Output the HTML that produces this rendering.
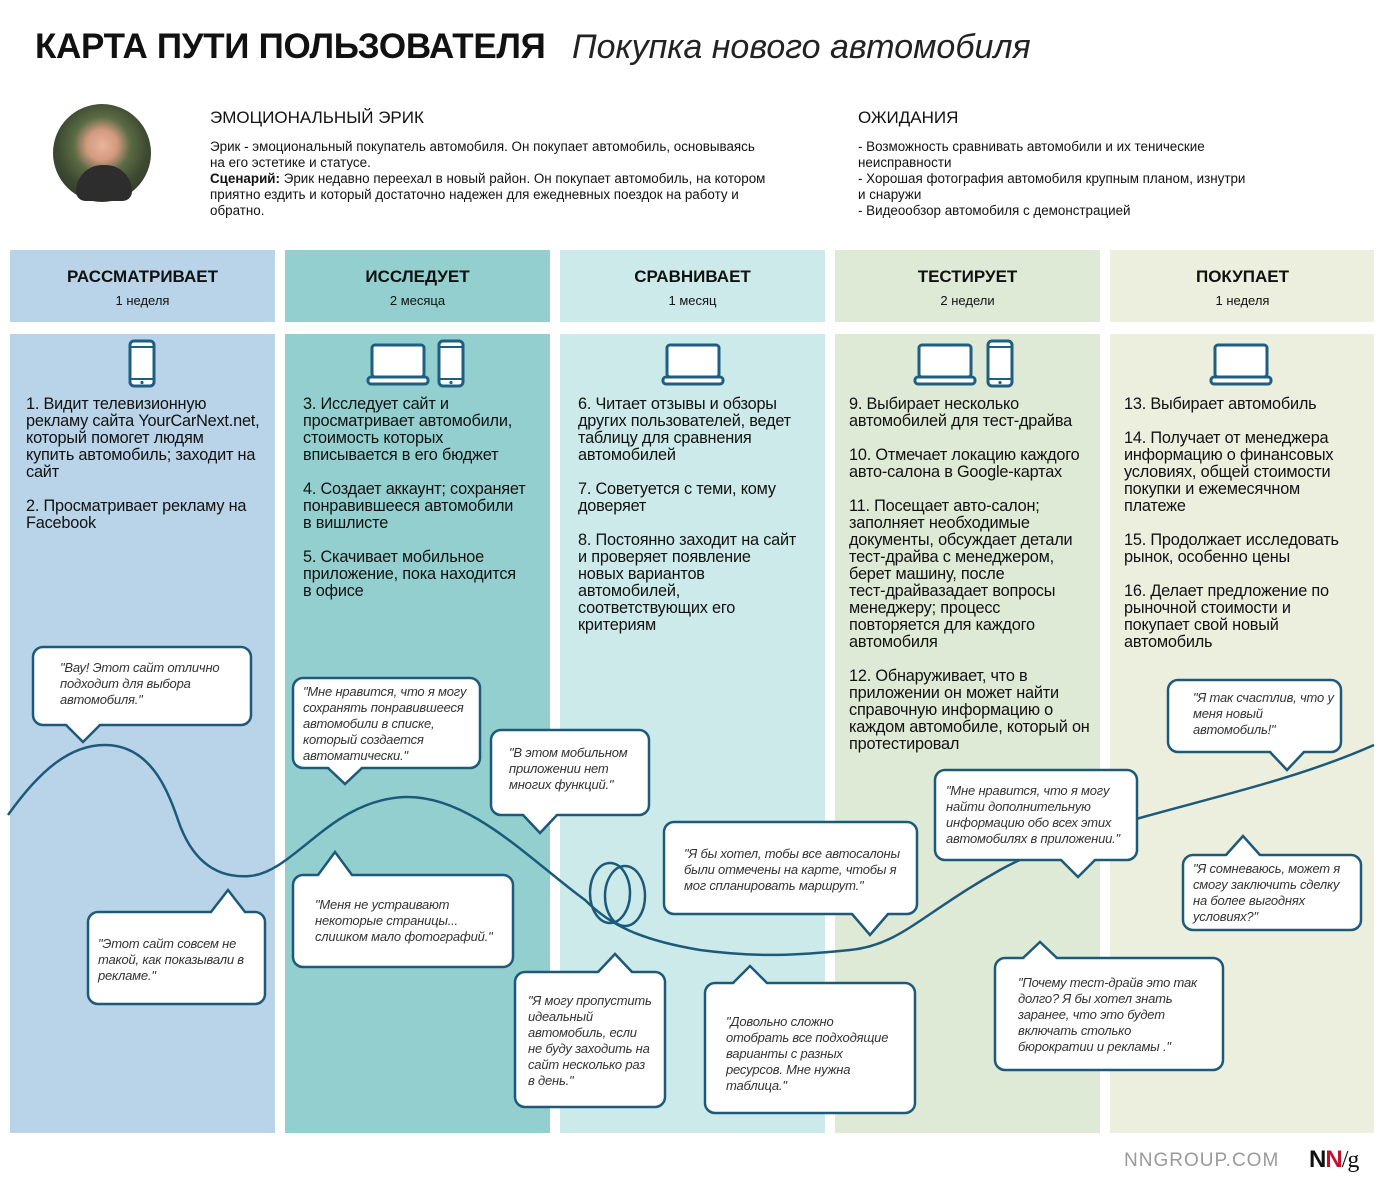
<!DOCTYPE html>
<html><head><meta charset="utf-8"><style>
body{margin:0;width:1384px;height:1189px;position:relative;background:#fff;font-family:"Liberation Sans",sans-serif;color:#111;overflow:hidden}
.a{position:absolute}
.col{position:absolute}
.h{text-align:center;font-weight:bold;font-size:17px;top:267px;width:265px}
.d{text-align:center;font-size:13px;top:293px;width:265px}
.st{position:absolute;font-size:16.3px;line-height:17px;letter-spacing:-0.2px;color:#111}
.st p{margin:0 0 17px 0}
.q{position:absolute;font-style:italic;font-size:13px;line-height:16px;color:#333;letter-spacing:-0.2px}
</style></head><body>
<div class="a" style="left:35px;top:27px;font-size:35px;font-weight:bold;letter-spacing:-0.3px">КАРТА ПУТИ ПОЛЬЗОВАТЕЛЯ</div>
<div class="a" style="left:572px;top:28px;font-size:34px;font-style:italic;color:#222">Покупка нового автомобиля</div>

<div class="a" style="left:53px;top:104px;width:98px;height:98px;border-radius:50%;background:radial-gradient(circle at 50% 42%,#e8b49a 0,#d49a80 20%,#5a6b45 38%,#3e4a30 60%,#2a2a2a 100%)"></div>
<div class="a" style="left:76px;top:165px;width:56px;height:36px;border-radius:28px 28px 10px 10px;background:#2d2d2d"></div>

<div class="a" style="left:210px;top:108px;font-size:17px">ЭМОЦИОНАЛЬНЫЙ ЭРИК</div>
<div class="a" style="left:210px;top:139px;font-size:13.4px;line-height:16px;width:640px">Эрик - эмоциональный покупатель автомобиля. Он покупает автомобиль, основываясь<br>на его эстетике и статусе.<br><b>Сценарий:</b> Эрик недавно переехал в новый район. Он покупает автомобиль, на котором<br>приятно ездить и который достаточно надежен для ежедневных поездок на работу и<br>обратно.</div>
<div class="a" style="left:858px;top:108px;font-size:17px">ОЖИДАНИЯ</div>
<div class="a" style="left:858px;top:139px;font-size:13.4px;line-height:16px;width:480px">- Возможность сравнивать автомобили и их тенические<br>неисправности<br>- Хорошая фотография автомобиля крупным планом, изнутри<br>и снаружи<br>- Видеообзор автомобиля с демонстрацией</div>

<div class="col" style="left:10px;top:250px;width:265px;height:72px;background:#b9d4e8"></div>
<div class="col" style="left:285px;top:250px;width:265px;height:72px;background:#94cfcf"></div>
<div class="col" style="left:560px;top:250px;width:265px;height:72px;background:#cdeaea"></div>
<div class="col" style="left:835px;top:250px;width:265px;height:72px;background:#dfead6"></div>
<div class="col" style="left:1110px;top:250px;width:264px;height:72px;background:#ecefdd"></div>
<div class="col" style="left:10px;top:334px;width:265px;height:799px;background:#b9d4e8"></div>
<div class="col" style="left:285px;top:334px;width:265px;height:799px;background:#94cfcf"></div>
<div class="col" style="left:560px;top:334px;width:265px;height:799px;background:#cdeaea"></div>
<div class="col" style="left:835px;top:334px;width:265px;height:799px;background:#dfead6"></div>
<div class="col" style="left:1110px;top:334px;width:264px;height:799px;background:#ecefdd"></div>

<div class="a h" style="left:10px">РАССМАТРИВАЕТ</div><div class="a d" style="left:10px">1 неделя</div>
<div class="a h" style="left:285px">ИССЛЕДУЕТ</div><div class="a d" style="left:285px">2 месяца</div>
<div class="a h" style="left:560px">СРАВНИВАЕТ</div><div class="a d" style="left:560px">1 месяц</div>
<div class="a h" style="left:835px">ТЕСТИРУЕТ</div><div class="a d" style="left:835px">2 недели</div>
<div class="a h" style="left:1110px">ПОКУПАЕТ</div><div class="a d" style="left:1110px">1 неделя</div>

<svg class="a" style="left:0;top:0" width="1384" height="1189">
<defs>
<g id="ph"><rect x="0" y="0" width="24" height="45" rx="4" fill="#fff" stroke="#1d5f80" stroke-width="3"/><line x1="0" y1="6" x2="24" y2="6" stroke="#1d5f80" stroke-width="2"/><line x1="0" y1="38" x2="24" y2="38" stroke="#1d5f80" stroke-width="2"/><circle cx="12" cy="41.5" r="1.6" fill="#1d5f80"/></g>
<g id="lp"><rect x="4" y="0" width="52" height="32" rx="3" fill="#fff" stroke="#1d5f80" stroke-width="3"/><rect x="0" y="32" width="60" height="7" rx="3" fill="#fff" stroke="#1d5f80" stroke-width="3"/></g>
</defs>
<use href="#ph" x="130" y="341"/>
<use href="#lp" x="368" y="345"/><use href="#ph" x="439" y="341"/>
<use href="#lp" x="663" y="345"/>
<use href="#lp" x="915" y="345"/><use href="#ph" x="988" y="341"/>
<use href="#lp" x="1211" y="345"/>

<g fill="none" stroke="#1d5a7a" stroke-width="2.5">
<path d="M8,815 C40,770 70,745 105,745 C150,745 168,790 178,820 C195,870 225,878 250,876 C295,872 330,800 405,797 C470,795 530,860 585,900 C610,925 640,940 700,950 C760,958 800,955 850,950 C900,945 920,915 1000,870 C1100,815 1250,800 1374,745"/>
<ellipse cx="610" cy="893" rx="20" ry="30"/>
<ellipse cx="625" cy="896" rx="20" ry="30"/>
</g>

<g fill="#fff" stroke="#1d5a7a" stroke-width="2.5">
<rect x="33" y="647" width="218" height="78" rx="10"/>
<rect x="293" y="678" width="187" height="90" rx="10"/>
<rect x="491" y="730" width="158" height="85" rx="10"/>
<rect x="88" y="912" width="177" height="92" rx="10"/>
<rect x="293" y="875" width="220" height="92" rx="10"/>
<rect x="515" y="972" width="150" height="135" rx="10"/>
<rect x="664" y="822" width="253" height="92" rx="10"/>
<rect x="705" y="983" width="210" height="130" rx="10"/>
<rect x="995" y="958" width="228" height="112" rx="10"/>
<rect x="935" y="770" width="202" height="90" rx="10"/>
<rect x="1168" y="680" width="173" height="72" rx="10"/>
<rect x="1183" y="855" width="178" height="75" rx="10"/>
</g>
<g fill="#fff" stroke="#1d5a7a" stroke-width="2.5" stroke-linejoin="miter">
<polygon points="66,723 83,742 100,723" stroke="none"/><polyline points="66,725 83,742 100,725"/>
<polygon points="328,766 345,784 362,766" stroke="none"/><polyline points="328,768 345,784 362,768"/>
<polygon points="523,813 540,833 557,813" stroke="none"/><polyline points="523,815 540,833 557,815"/>
<polygon points="852,912 870,935 888,912" stroke="none"/><polyline points="852,914 870,935 888,914"/>
<polygon points="1061,858 1078,877 1095,858" stroke="none"/><polyline points="1061,860 1078,877 1095,860"/>
<polygon points="1270,750 1287,770 1304,750" stroke="none"/><polyline points="1270,752 1287,770 1304,752"/>
<polygon points="211,914 228,890 245,914" stroke="none"/><polyline points="211,912 228,890 245,912"/>
<polygon points="318,877 335,852 352,877" stroke="none"/><polyline points="318,875 335,852 352,875"/>
<polygon points="598,974 615,954 632,974" stroke="none"/><polyline points="598,972 615,954 632,972"/>
<polygon points="733,985 750,966 767,985" stroke="none"/><polyline points="733,983 750,966 767,983"/>
<polygon points="1023,960 1040,942 1057,960" stroke="none"/><polyline points="1023,958 1040,942 1057,958"/>
<polygon points="1226,857 1243,836 1260,857" stroke="none"/><polyline points="1226,855 1243,836 1260,855"/>
</g>
</svg>

<div class="st" style="left:26px;top:396px;width:250px"><p>1. Видит телевизионную<br>рекламу сайта YourCarNext.net,<br>который помогет людям<br>купить автомобиль; заходит на<br>сайт</p><p>2. Просматривает рекламу на<br>Facebook</p></div>
<div class="st" style="left:303px;top:396px;width:250px"><p>3. Исследует сайт и<br>просматривает автомобили,<br>стоимость которых<br>вписывается в его бюджет</p><p>4. Создает аккаунт; сохраняет<br>понравившееся автомобили<br>в вишлисте</p><p>5. Скачивает мобильное<br>приложение, пока находится<br>в офисе</p></div>
<div class="st" style="left:578px;top:396px;width:250px"><p>6. Читает отзывы и обзоры<br>других пользователей, ведет<br>таблицу для сравнения<br>автомобилей</p><p>7. Советуется с теми, кому<br>доверяет</p><p>8. Постоянно заходит на сайт<br>и проверяет появление<br>новых вариантов<br>автомобилей,<br>соответствующих его<br>критериям</p></div>
<div class="st" style="left:849px;top:396px;width:255px"><p>9. Выбирает несколько<br>автомобилей для тест-драйва</p><p>10. Отмечает локацию каждого<br>авто-салона в Google-картах</p><p>11. Посещает авто-салон;<br>заполняет необходимые<br>документы, обсуждает детали<br>тест-драйва с менеджером,<br>берет машину, после<br>тест-драйвазадает вопросы<br>менеджеру; процесс<br>повторяется для каждого<br>автомобиля</p><p>12. Обнаруживает, что в<br>приложении он может найти<br>справочную информацию о<br>каждом автомобиле, который он<br>протестировал</p></div>
<div class="st" style="left:1124px;top:396px;width:250px"><p>13. Выбирает автомобиль</p><p>14. Получает от менеджера<br>информацию о финансовых<br>условиях, общей стоимости<br>покупки и ежемесячном<br>платеже</p><p>15. Продолжает исследовать<br>рынок, особенно цены</p><p>16. Делает предложение по<br>рыночной стоимости и<br>покупает свой новый<br>автомобиль</p></div>

<div class="q" style="left:60px;top:660px">"Вау! Этот сайт отлично<br>подходит для выбора<br>автомобиля."</div>
<div class="q" style="left:303px;top:684px">"Мне нравится, что я могу<br>сохранять понравившееся<br>автомобили в списке,<br>который создается<br>автоматически."</div>
<div class="q" style="left:509px;top:745px">"В этом мобильном<br>приложении нет<br>многих функций."</div>
<div class="q" style="left:98px;top:936px">"Этот сайт совсем не<br>такой, как показывали в<br>рекламе."</div>
<div class="q" style="left:315px;top:897px">"Меня не устраивают<br>некоторые страницы...<br>слишком мало фотографий."</div>
<div class="q" style="left:528px;top:993px">"Я могу пропустить<br>идеальный<br>автомобиль, если<br>не буду заходить на<br>сайт несколько раз<br>в день."</div>
<div class="q" style="left:684px;top:846px">"Я бы хотел, тобы все автосалоны<br>были отмечены на карте, чтобы я<br>мог спланировать маршрут."</div>
<div class="q" style="left:726px;top:1014px">"Довольно сложно<br>отобрать все подходящие<br>варианты с разных<br>ресурсов. Мне нужна<br>таблица."</div>
<div class="q" style="left:1018px;top:975px">"Почему тест-драйв это так<br>долго? Я бы хотел знать<br>заранее, что это будет<br>включать столько<br>бюрократии и рекламы ."</div>
<div class="q" style="left:946px;top:783px">"Мне нравится, что я могу<br>найти дополнительную<br>информацию обо всех этих<br>автомобилях в приложении."</div>
<div class="q" style="left:1193px;top:690px">"Я так счастлив, что у<br>меня новый<br>автомобиль!"</div>
<div class="q" style="left:1193px;top:861px">"Я сомневаюсь, может я<br>смогу заключить сделку<br>на более выгоднях<br>условиях?"</div>

<div class="a" style="left:1124px;top:1150px;font-size:19px;color:#9a9a9a;letter-spacing:1px">NNGROUP.COM</div>
<div class="a" style="left:1309px;top:1146px;font-size:24px;font-weight:bold;letter-spacing:-1px"><span style="color:#111">N</span><span style="color:#c8102e">N</span><span style="font-weight:normal;font-family:'Liberation Serif',serif;color:#111">/g</span></div>
</body></html>
